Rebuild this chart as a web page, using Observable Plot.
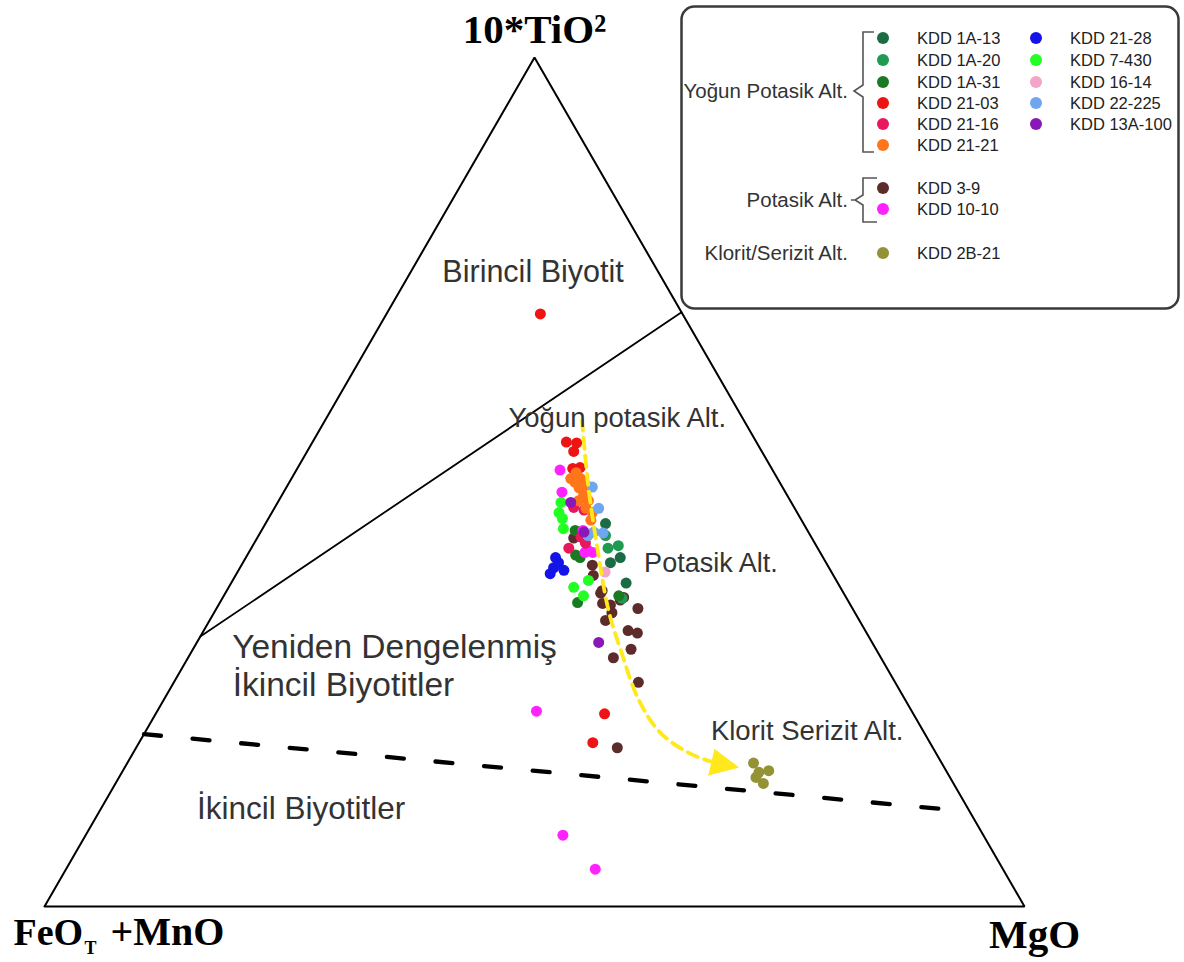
<!DOCTYPE html>
<html><head><meta charset="utf-8">
<script src="https://cdn.jsdelivr.net/npm/d3@7"></script>
<script src="https://cdn.jsdelivr.net/npm/@observablehq/plot@0.6"></script>
<style>
body{margin:0;background:#fff;}
#wrap{position:relative;width:1184px;height:962px;overflow:hidden;background:#fff;}
#wrap > svg.plotmain{position:absolute;left:0;top:0;}
#wrap > svg#legend{position:absolute;left:680px;top:5px;}
</style></head><body><div id="wrap"></div>
<script>
// ---- data: each point is [TiO2 (x10) %, MgO %]; FeOT+MnO = 100 - both ----
const sampleNames = ["KDD 1A-13","KDD 1A-20","KDD 1A-31","KDD 21-03","KDD 21-16","KDD 21-21",
  "KDD 21-28","KDD 7-430","KDD 16-14","KDD 22-225","KDD 13A-100","KDD 3-9","KDD 10-10","KDD 2B-21"];
const sampleColors = ["#1b6b45","#1f9a52","#1a7a22","#ee1414","#e8185c","#ff7519",
  "#1414e8","#22ff22","#f4a3c9","#6fa6f0","#8a17b8","#5e2b2b","#ff22ff","#939335"];
const kdd1A13 = [[45.1,34.7],[41.1,38.2],[38.1,40.3],[40.5,37.5]];
const kdd1A20 = [[43.7,35.4],[42.5,37.3],[42.2,36.4],[36.3,40.8]];
const kdd1A31 = [[44.3,32.0],[41.4,33.5],[41.1,34.1],[35.8,36.5],[36.6,40.3]];
const kdd2103 = [[69.8,15.7],[54.7,25.9],[54.6,27.0],[53.6,27.2],[51.7,28.8],[51.6,28.1],[22.7,45.8],[19.3,46.3]];
const kdd2116 = [[47.0,30.5],[46.7,31.7],[43.5,33.0],[42.2,32.4],[42.8,33.8]];
const kdd2121 = [[51.1,28.7],[50.4,29.5],[50.0,29.1],[49.3,29.9],[48.4,30.8],[47.8,31.6],[47.8,30.6],[46.9,31.8],[46.4,32.7],[45.5,33.0],[50.4,28.5],[49.6,30.5]];
const kdd2128 = [[41.1,31.6],[39.9,32.0],[39.2,32.0],[39.6,33.2],[40.5,32.2]];
const kdd7430 = [[47.6,28.9],[46.4,29.3],[45.7,30.0],[44.5,30.7],[37.6,35.2],[38.4,36.3],[36.6,36.7]];
const kdd1614 = [[39.4,37.5]];
const kdd22225 = [[49.4,31.2],[46.9,33.1],[44.1,34.0],[44.0,35.0],[43.7,33.6]];
const kdd13A100 = [[47.6,29.9],[44.1,33.0],[31.1,41.0]];
const kdd39 = [[43.4,32.3],[40.2,35.8],[39.0,36.5],[37.2,38.3],[35.7,39.1],[35.5,40.0],[36.1,40.7],[36.4,40.9],[35.1,43.0],[33.7,40.4],[34.6,40.6],[32.5,43.3],[32.2,44.4],[29.3,43.4],[26.4,47.4],[18.7,49.1],[30.3,44.7],[36.9,38.3]];
const kdd1010 = [[51.4,26.9],[48.8,28.4],[44.3,32.8],[42.0,34.4],[41.7,35.1],[41.7,34.3],[23.0,38.7],[8.4,48.7],[4.4,54.0]];
const kdd2B21 = [[16.9,63.9],[15.2,65.0],[16.0,65.9],[14.5,66.1],[15.8,65.0]];

// field boundaries and alteration trend (ternary [Ti, Mg])
const triangleVerts = [[0,0],[0,100],[100,0],[0,0]];
const solidBoundary = [[70,30],[31.8,0]];
const dashedBoundary = [[20.3,0],[11.5,85.7]];
const trendPath = [[57.3,26.2],[49.4,30.8],[41.6,35.7],[34.9,40.1],[30.2,43.7],[24.3,48.5],[20.4,52.7],[18.0,56.9],[17.0,59.7]];
const trendHead = [[18.5,59.1],[16.4,62.6],[15.5,60.0]];

const fieldLabelsMid = [
  {text:"Birincil Biyotit", ti:74.7, mg:12.5, size:30.5},
  {text:"Yoğun potasik Alt.", ti:57.5, mg:29.7, size:27.5},
  {text:"Potasik Alt.", ti:40.4, mg:47.8, size:27}
];
const fieldLabelsStart = [
  {text:"Yeniden Dengelenmiş", ti:30.5, mg:3.9, size:33.5},
  {text:"İkincil Biyotitler", ti:26.0, mg:6.2, size:33.5},
  {text:"Klorit Serizit Alt.", ti:20.6, mg:57.7, size:27.5},
  {text:"İkincil Biyotitler", ti:11.5, mg:9.8, size:31.5}
];

const legendGroups = [
  {label:"Yoğun Potasik Alt.", members:["KDD 1A-13","KDD 1A-20","KDD 1A-31","KDD 21-03","KDD 21-16","KDD 21-21"], col2:["KDD 21-28","KDD 7-430","KDD 16-14","KDD 22-225","KDD 13A-100"]},
  {label:"Potasik Alt.", members:["KDD 3-9","KDD 10-10"], col2:[]},
  {label:"Klorit/Serizit Alt.", members:["KDD 2B-21"], col2:[]}
];

// ---- transform ----
const S3 = Math.sqrt(3)/2;
const tx = d => d[1]/100 + d[0]/200;
const ty = d => d[0]/100 * S3;
const seriesArrays = {"KDD 1A-13":kdd1A13,"KDD 1A-20":kdd1A20,"KDD 1A-31":kdd1A31,"KDD 21-03":kdd2103,
  "KDD 21-16":kdd2116,"KDD 21-21":kdd2121,"KDD 21-28":kdd2128,"KDD 7-430":kdd7430,"KDD 16-14":kdd1614,
  "KDD 22-225":kdd22225,"KDD 13A-100":kdd13A100,"KDD 3-9":kdd39,"KDD 10-10":kdd1010,"KDD 2B-21":kdd2B21};
const colorOf = Object.fromEntries(sampleNames.map((n,i)=>[n,sampleColors[i]]));
const drawOrder = ["KDD 3-9","KDD 1A-13","KDD 1A-20","KDD 1A-31","KDD 7-430","KDD 21-28","KDD 21-03",
  "KDD 10-10","KDD 21-16","KDD 21-21","KDD 22-225","KDD 13A-100","KDD 16-14","KDD 2B-21"];
const points = drawOrder.flatMap(n => seriesArrays[n].map(d => ({sample:n, ti:d[0], mg:d[1]})));

const X = d => d.mg/100 + d.ti/200, Y = d => d.ti/100*S3;
const sans = "Liberation Sans, Arial, sans-serif";
const serif = "Liberation Serif, Times New Roman, serif";
const vtx = [{ti:100,mg:0},{ti:0,mg:0},{ti:0,mg:100}];

const chart = Plot.plot({
  width:1184, height:962, margin:0,
  className:"plotmain",
  x:{domain:[0,1], range:[44,1024], axis:null},
  y:{domain:[0,S3], range:[906,57], axis:null},
  color:{domain:sampleNames, range:sampleColors},
  style:{background:"transparent"},
  marks:[
    Plot.line(triangleVerts, {x:tx, y:ty, stroke:"#000", strokeWidth:2, strokeLinejoin:"miter"}),
    Plot.line(solidBoundary, {x:tx, y:ty, stroke:"#000", strokeWidth:1.8}),
    Plot.line(dashedBoundary, {x:tx, y:ty, stroke:"#000", strokeWidth:4.3, strokeDasharray:"17,31.8"}),
    Plot.dot(points, {x:X, y:Y, fill:"sample", r:5.5, stroke:"none"}),
    Plot.line(trendPath, {x:tx, y:ty, stroke:"#ffe81c", strokeWidth:3.8, strokeDasharray:"11,7", curve:"catmull-rom"}),
    Plot.line(trendHead, {x:tx, y:ty, fill:"#ffe81c", stroke:"#ffe81c", strokeWidth:1}),
    Plot.text(fieldLabelsMid, {x:X, y:Y, text:"text", fontSize:"size", fill:"#333", fontFamily:sans, textAnchor:"middle"}),
    Plot.text(fieldLabelsStart, {x:X, y:Y, text:"text", fontSize:"size", fill:"#333", fontFamily:sans, textAnchor:"start"}),
    Plot.text([vtx[0]], {x:X, y:Y, text:()=>"10*TiO²", dy:-28, fontSize:41, fontWeight:"bold", fontFamily:serif, fill:"#000"}),
    Plot.text([vtx[1]], {x:X, y:Y, text:()=>"FeO", dx:-31, dy:26, textAnchor:"start", fontSize:38, fontWeight:"bold", fontFamily:serif, fill:"#000"}),
    Plot.text([vtx[1]], {x:X, y:Y, text:()=>"T", dx:40, dy:42, textAnchor:"start", fontSize:18, fontWeight:"bold", fontFamily:serif, fill:"#000"}),
    Plot.text([vtx[1]], {x:X, y:Y, text:()=>"+MnO", dx:66, dy:26, textAnchor:"start", fontSize:40, fontWeight:"bold", fontFamily:serif, fill:"#000"}),
    Plot.text([vtx[2]], {x:X, y:Y, text:()=>"MgO", dx:10, dy:28, fontSize:41, fontWeight:"bold", fontFamily:serif, fill:"#000"})
  ]
});
const wrap = document.getElementById("wrap");
wrap.appendChild(chart);

// ---- legend ----
const lg = d3.select(wrap).append("svg").attr("id","legend").attr("width",500).attr("height",306)
  .style("font-family", sans);
lg.append("rect").attr("x",1.5).attr("y",1.5).attr("width",497).attr("height",302).attr("rx",13)
  .attr("fill","#fff").attr("stroke","#3a3a3a").attr("stroke-width",2.5);
const rowY1 = [33,55,77,98,119,140];
const addItem = (name, cx, cy) => {
  lg.append("circle").attr("cx",cx).attr("cy",cy).attr("r",6).attr("fill",colorOf[name]);
  lg.append("text").attr("x",cx+34).attr("y",cy).attr("dy","0.35em").attr("font-size",16.5).attr("fill","#222").text(name);
};
const g0 = legendGroups[0];
g0.members.forEach((n,i)=>addItem(n,203,rowY1[i]));
g0.col2.forEach((n,i)=>addItem(n,356,rowY1[i]));
lg.append("text").attr("x",168).attr("y",86).attr("dy","0.35em").attr("text-anchor","end").attr("font-size",20.5).attr("fill","#333").text(g0.label);
lg.append("path").attr("d","M194,27H183V80L174,86L183,92V147H194").attr("fill","none").attr("stroke","#555").attr("stroke-width",1.6);
const g1 = legendGroups[1];
g1.members.forEach((n,i)=>addItem(n,203,[183,204][i]));
lg.append("text").attr("x",168).attr("y",195).attr("dy","0.35em").attr("text-anchor","end").attr("font-size",20.5).attr("fill","#333").text(g1.label);
lg.append("path").attr("d","M197,173H183V190L175,195L183,200V217H197M171,195H176").attr("fill","none").attr("stroke","#555").attr("stroke-width",1.6);
const g2 = legendGroups[2];
addItem(g2.members[0],203,248);
lg.append("text").attr("x",168).attr("y",248).attr("dy","0.35em").attr("text-anchor","end").attr("font-size",20.5).attr("fill","#333").text(g2.label);
</script></body></html>
